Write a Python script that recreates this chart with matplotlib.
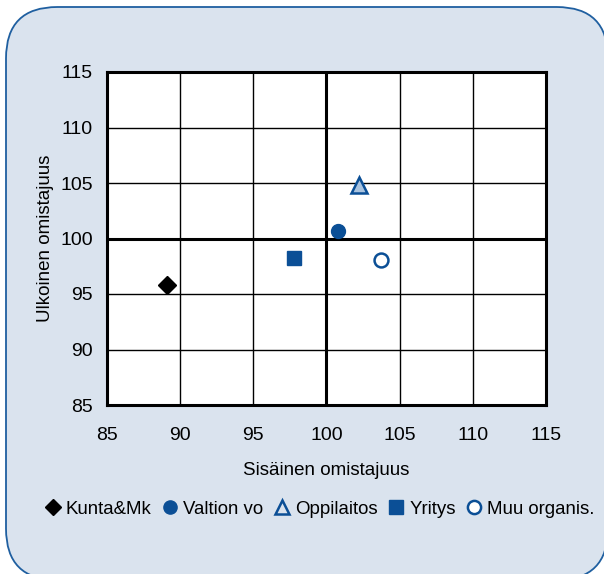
import matplotlib
matplotlib.use("Agg")
import matplotlib.pyplot as plt
from matplotlib.patches import FancyBboxPatch
from matplotlib.lines import Line2D

plt.rcParams['font.family'] = ['Liberation Sans', 'DejaVu Sans']

names = ["Kunta&Mk", "Valtion vo", "Oppilaitos", "Yritys", "Muu organis."]
x_vals = [89.1, 100.8, 102.2, 97.8, 103.7]
y_vals = [95.8, 100.7, 104.8, 98.2, 98.1]
xticks = [85, 90, 95, 100, 105, 110, 115]
yticks = [85, 90, 95, 100, 105, 110, 115]

blue = "#0b4f96"
markers = ["D", "o", "^", "s", "o"]
faces = ["black", blue, "#a9c3df", blue, "white"]
edges = ["black", blue, blue, blue, blue]
sizes = [9, 10, 11, 10, 10]
leg_faces = ["black", blue, "none", blue, "white"]

W, H = 604, 574
fig = plt.figure(figsize=(W/100, H/100), dpi=100)
fig.patch.set_facecolor("white")

box = FancyBboxPatch((6/W, (H-580)/H), (608-6)/W, (580-7)/H,
                     boxstyle="round,pad=0,rounding_size=0.085",
                     transform=fig.transFigure, facecolor="#dae3ee",
                     edgecolor="#1f5fa0", linewidth=1.3, mutation_aspect=W/H,
                     zorder=-10)
fig.patches.append(box)

ax = fig.add_axes([107/W, 1-405/H, (546-107)/W, (405-72)/H])
ax.set_facecolor("white")
ax.set_xlim(85, 115)
ax.set_ylim(85, 115)
ax.set_xticks(xticks)
ax.set_yticks(yticks)
ax.tick_params(length=0, labelsize=14)
ax.tick_params(axis="x", pad=16)
ax.tick_params(axis="y", pad=10)
for v in xticks[1:-1]:
    ax.axvline(v, color="black", lw=2.2 if v == 100 else 1.0, zorder=1)
for v in yticks[1:-1]:
    ax.axhline(v, color="black", lw=2.2 if v == 100 else 1.0, zorder=1)
for s in ax.spines.values():
    s.set_linewidth(2.2)
ax.set_xlabel("Sisäinen omistajuus", fontsize=13.5, labelpad=13)
ax.set_ylabel("Ulkoinen omistajuus", fontsize=13.5, labelpad=5)

for i in range(len(names)):
    ax.plot(x_vals[i], y_vals[i], marker=markers[i], markersize=sizes[i],
            markerfacecolor=faces[i], markeredgecolor=edges[i],
            markeredgewidth=1.8 if i in (2, 4) else 1, linestyle="none",
            zorder=5, clip_on=False)

handles = [Line2D([], [], marker=markers[i], markersize=sizes[i]*0.95,
                  markerfacecolor=leg_faces[i], markeredgecolor=edges[i],
                  markeredgewidth=1.8 if i in (2, 4) else 1, linestyle="none")
           for i in range(len(names))]
fig.legend(handles, names, loc="center", bbox_to_anchor=(318/W, 1-509/H),
           ncol=5, frameon=False, fontsize=13.4, handletextpad=0.1,
           columnspacing=0.4, handlelength=1.2, borderaxespad=0)

fig.savefig("out.png", dpi=100, facecolor="white")
